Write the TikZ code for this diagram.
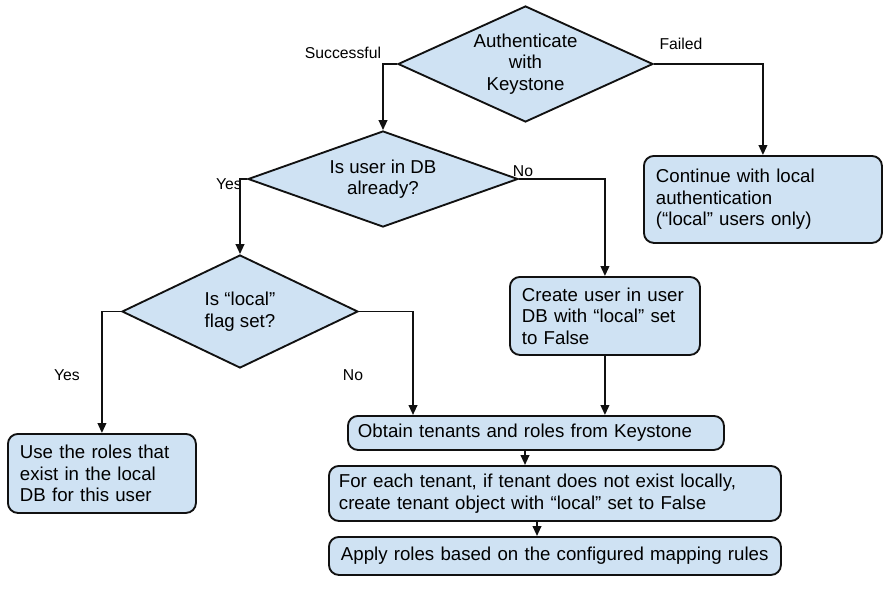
\documentclass[tikz,border=0pt]{standalone}
\usepackage{fontspec}
\setmainfont{Liberation Sans}
\usetikzlibrary{shapes.geometric,arrows.meta,calc}
\definecolor{boxfill}{HTML}{CFE2F3}
\definecolor{edge}{HTML}{111111}
\begin{document}
\begin{tikzpicture}[x=0.75pt,y=-0.75pt,
  box/.style={draw=edge,fill=boxfill,line width=1.4pt,rounded corners=7.5pt,
    anchor=north west,align=left,inner xsep=9pt,inner ysep=0pt,
    font=\fontsize{14}{16.1}\selectfont},
  dia/.style={draw=edge,fill=boxfill,line width=1.4pt,diamond,inner sep=0pt},
  dtext/.style={align=center,font=\fontsize{14}{16.1}\selectfont},
  lab/.style={font=\fontsize{11.8}{13}\selectfont,inner sep=0pt},
  arr/.style={draw=edge,line width=1.4pt,-{Triangle[length=7.5pt,width=6.5pt]}}]
\useasboundingbox (0,0) rectangle (891,590);
% decisions
\node[dia,minimum width=191.25pt,minimum height=87pt] (d1) at (525.5,64) {};
\node[dtext] (d1t) at (d1.center) {Authenticate\\with\\Keystone};
\node[dia,minimum width=202.5pt,minimum height=72pt] (d2) at (383,179) {};
\node[dtext] (d2t) at (d2.center) {Is user in DB\\already?};
\node[dia,minimum width=177pt,minimum height=84.75pt] (d3) at (240,311.5) {};
\node[dtext] (d3t) at (d3.center) {Is “local”\\flag set?};
% boxes
\node[box,minimum width=178.5pt,minimum height=65.25pt,text width=160.5pt] (cont) at (643,155)
  {Continue with local\\authentication\\(“local” users only)};
\node[box,minimum width=142.5pt,minimum height=58.5pt,text width=124.5pt] (create) at (509,276)
  {Create user in user\\DB with “local” set\\to False};
\node[box,minimum width=141pt,minimum height=59.25pt,text width=123pt] (use) at (7,433)
  {Use the roles that\\exist in the local\\DB for this user};
\node[box,minimum width=282pt,minimum height=25.5pt,text width=267pt,inner xsep=7.5pt] (ob) at (347,415)
  {Obtain tenants and roles from Keystone};
\node[box,minimum width=339pt,minimum height=41.25pt,text width=324pt,inner xsep=7.5pt] (fe) at (328,465)
  {For each tenant, if tenant does not exist locally,\\create tenant object with “local” set to False};
\node[box,minimum width=339pt,minimum height=28.5pt,text width=321pt] (ap) at (328,536)
  {Apply roles based on the configured mapping rules};
% labels
\node[lab] (lsucc) at (343,53) {Successful};
\node[lab] (lfail) at (681,44) {Failed};
\node[lab] (lyes1) at (229,184) {Yes};
\node[lab] (lno1) at (523,171) {No};
\node[lab] (lyes2) at (67,375) {Yes};
\node[lab] (lno2) at (353,375) {No};
% connectors
\draw[arr] (d1.west) -| (d2.north);
\draw[arr] (d1.east) -| (cont.north);
\draw[arr] (d2.west) -| (d3.north);
\draw[arr] (d2.east) -| (create.north);
\draw[arr] (d3.west) -| (use.north);
\draw[arr] (d3.east) -| ($(ob.north west)+(66,0)$);
\draw[arr] (create.south) -- (create.south |- ob.north);
\draw[arr] ($(ob.south west)+(178,0)$) -- ($(fe.north west)+(197,0)$);
\draw[arr] ($(fe.south west)+(209,0)$) -- ($(ap.north west)+(209,0)$);
\end{tikzpicture}
\end{document}
